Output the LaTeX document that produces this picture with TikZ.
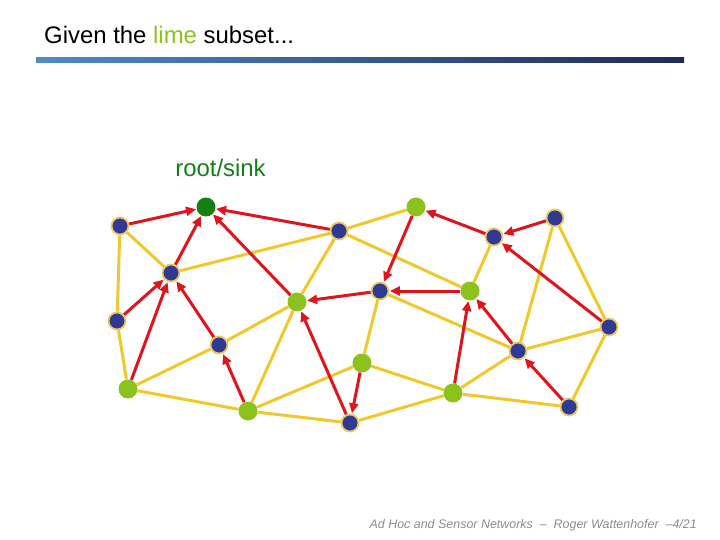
\documentclass[tikz,border=0pt]{standalone}
\usepackage{fontspec}
\setmainfont{Liberation Sans}
\usepackage{tikz}
\usetikzlibrary{arrows.meta}

\definecolor{nodeblue}{HTML}{303A94}
\definecolor{rimyellow}{HTML}{E8C860}
\definecolor{limegreen}{HTML}{8CC21E}
\definecolor{rootgreen}{HTML}{138013}
\definecolor{edgeyellow}{HTML}{F0C82C}
\definecolor{arrowred}{HTML}{E0141C}
\definecolor{barlight}{HTML}{4C8CC8}
\definecolor{bardark}{HTML}{1C2A5E}

\begin{document}
\begin{tikzpicture}
    [x=1bp, y=-1bp,
    plain/.style={circle, fill=nodeblue, draw=rimyellow, line width=1.8bp, minimum size=17bp,
    inner sep=0pt},
    chosen/.style={circle, fill=limegreen, minimum size=19bp, inner sep=0pt},
    sink/.style={circle, fill=rootgreen, minimum size=19bp, inner sep=0pt},
    link/.style={edgeyellow, line width=3bp},
    arrow/.style={arrowred, line width=3bp, -{Triangle[length=10bp, width=9bp]},
    shorten >=0.5bp}]
    \useasboundingbox (0,0) rectangle (720,540);

    % heading
    \node [anchor=base west, inner sep=0pt, font=\fontsize{24}{28}\selectfont] (title) at (44,44)
    {Given the \textcolor{limegreen}{lime} subset...};
    \shade [left color=barlight, right color=bardark] (36,58) rectangle (684,63);
    \node [anchor=base, inner sep=0pt, font=\fontsize{24}{28}\selectfont, text=rootgreen] (label)
    at (220.5,177) {root/sink};

    % nodes
    \node [sink] (root) at (206,207) {};
    \node [plain] (a) at (120,226) {};
    \node [plain] (b) at (171,273) {};
    \node [plain] (c) at (339,231) {};
    \node [chosen] (d) at (416,207) {};
    \node [plain] (e) at (494,237) {};
    \node [plain] (f) at (555,218) {};
    \node [chosen] (g) at (297,302) {};
    \node [plain] (h) at (380,291) {};
    \node [chosen] (i) at (470,291) {};
    \node [plain] (j) at (117,321) {};
    \node [plain] (k) at (219,345) {};
    \node [chosen] (l) at (128,389) {};
    \node [chosen] (m) at (248,411) {};
    \node [plain] (n) at (350,423) {};
    \node [chosen] (o) at (362,363) {};
    \node [chosen] (p) at (453,393) {};
    \node [plain] (q) at (518,351) {};
    \node [plain] (s) at (609,327) {};
    \node [plain] (t) at (569,407) {};

    % yellow links
    \draw [link] (a) -- (b);
    \draw [link] (a) -- (j);
    \draw [link] (b) -- (c);
    \draw [link] (c) -- (d);
    \draw [link] (c) -- (g);
    \draw [link] (c) -- (i);
    \draw [link] (e) -- (i);
    \draw [link] (f) -- (q);
    \draw [link] (f) -- (s);
    \draw [link] (j) -- (l);
    \draw [link] (l) -- (k);
    \draw [link] (k) -- (g);
    \draw [link] (l) -- (m);
    \draw [link] (m) -- (g);
    \draw [link] (m) -- (o);
    \draw [link] (m) -- (n);
    \draw [link] (h) -- (o);
    \draw [link] (h) -- (q);
    \draw [link] (o) -- (p);
    \draw [link] (n) -- (p);
    \draw [link] (p) -- (q);
    \draw [link] (p) -- (t);
    \draw [link] (q) -- (s);
    \draw [link] (s) -- (t);

    % red tree
    \draw [arrow] (a) -- (root);
    \draw [arrow] (b) -- (root);
    \draw [arrow] (g) -- (root);
    \draw [arrow] (c) -- (root);
    \draw [arrow] (h) -- (g);
    \draw [arrow] (d) -- (h);
    \draw [arrow] (i) -- (h);
    \draw [arrow] (e) -- (d);
    \draw [arrow] (f) -- (e);
    \draw [arrow] (s) -- (e);
    \draw [arrow] (j) -- (b);
    \draw [arrow] (l) -- (b);
    \draw [arrow] (k) -- (b);
    \draw [arrow] (m) -- (k);
    \draw [arrow] (n) -- (g);
    \draw [arrow] (o) -- (n);
    \draw [arrow] (p) -- (i);
    \draw [arrow] (q) -- (i);
    \draw [arrow] (t) -- (q);

    % footer
    \node [anchor=base east, inner sep=0pt, font=\fontsize{12.5}{15}\selectfont\itshape,
    text=black!45] (footer) at (697,528)
    {Ad Hoc and Sensor Networks \ -- \ Roger Wattenhofer \ --4/21};
\end{tikzpicture}
\end{document}
